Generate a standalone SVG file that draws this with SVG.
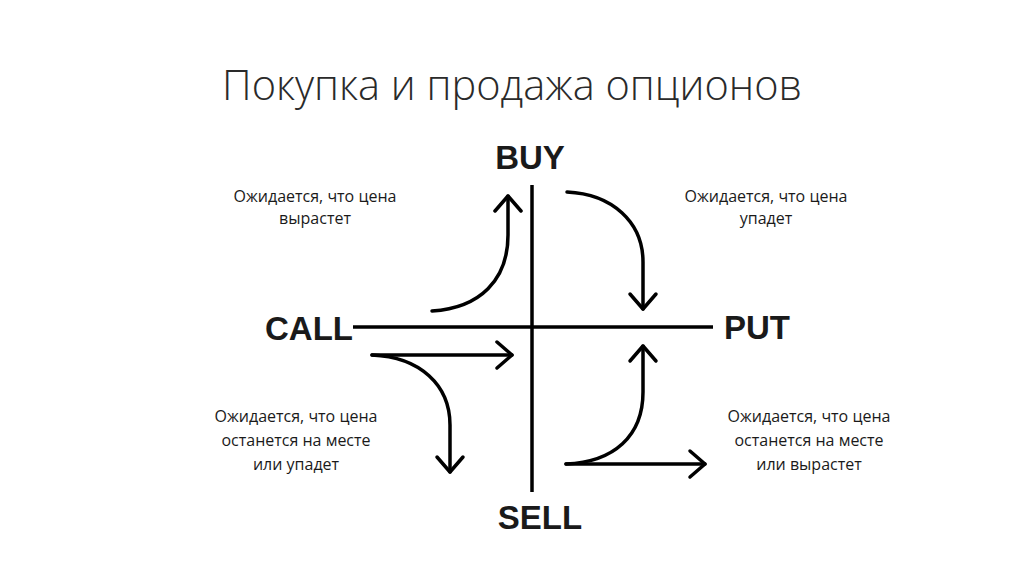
<svg xmlns="http://www.w3.org/2000/svg" width="1024" height="574" viewBox="0 0 1024 574">
<style>
.ax{stroke:#000;stroke-width:3.5;fill:none;stroke-linecap:butt}
.ar{stroke:#000;stroke-width:3.5;fill:none;stroke-linecap:round}
.lab{font-family:"Liberation Sans",Arial,sans-serif;font-weight:bold;font-size:33px;fill:#1a1a1a}
.note{font-family:"Open Sans","Noto Sans",sans-serif;font-size:16px;fill:#1a1a1a;text-anchor:middle}
.title{font-family:"Open Sans","Noto Sans",sans-serif;font-weight:300;font-size:41.5px;fill:#2a2a2a;text-anchor:middle}
</style>
<defs>
<marker id="ah" markerUnits="userSpaceOnUse" markerWidth="40" markerHeight="40" refX="0" refY="0" viewBox="-20 -20 40 40" orient="auto" overflow="visible">
<path d="M-15,-13 L0,0 L-15,13" fill="none" stroke="#000" stroke-width="3.5" stroke-linecap="round" stroke-linejoin="round"/>
</marker>
</defs>
<rect width="1024" height="574" fill="#fff"/>
<text class="title" x="512" y="100">Покупка и продажа опционов</text>
<g id="axes">
<line class="ax" x1="532" y1="185" x2="532" y2="492"/>
<line class="ax" x1="353" y1="327" x2="713" y2="327"/>
</g>
<g id="buy"><text class="lab" x="530" y="169" text-anchor="middle">BUY</text></g>
<g id="sell"><text class="lab" x="540" y="529" text-anchor="middle">SELL</text></g>
<g id="call"><text class="lab" x="265" y="340">CALL</text></g>
<g id="put"><text class="lab" x="724" y="339">PUT</text></g>
<g id="connectors">
<path class="ar" d="M432,311 C480,308 508,280 508,235 L508,196" marker-end="url(#ah)"/>
<path class="ar" d="M567,192 C612,194 643,222 643,262 L643,309" marker-end="url(#ah)"/>
<path class="ar" d="M372,355 L512,355" marker-end="url(#ah)"/>
<path class="ar" d="M372,355 C420,357 450,385 450,425 L450,472" marker-end="url(#ah)"/>
<path class="ar" d="M566,464 L705,464" marker-end="url(#ah)"/>
<path class="ar" d="M566,464 C614,462 643,436 643,392 L643,346" marker-end="url(#ah)"/>
</g>
<g id="notes">
<text class="note" x="315" y="202">Ожидается, что цена</text>
<text class="note" x="315" y="224">вырастет</text>
<text class="note" x="766" y="202">Ожидается, что цена</text>
<text class="note" x="766" y="224">упадет</text>
<text class="note" x="296" y="422">Ожидается, что цена</text>
<text class="note" x="296" y="446">останется на месте</text>
<text class="note" x="296" y="470">или упадет</text>
<text class="note" x="809" y="422">Ожидается, что цена</text>
<text class="note" x="809" y="446">останется на месте</text>
<text class="note" x="809" y="470">или вырастет</text>
</g>
</svg>
